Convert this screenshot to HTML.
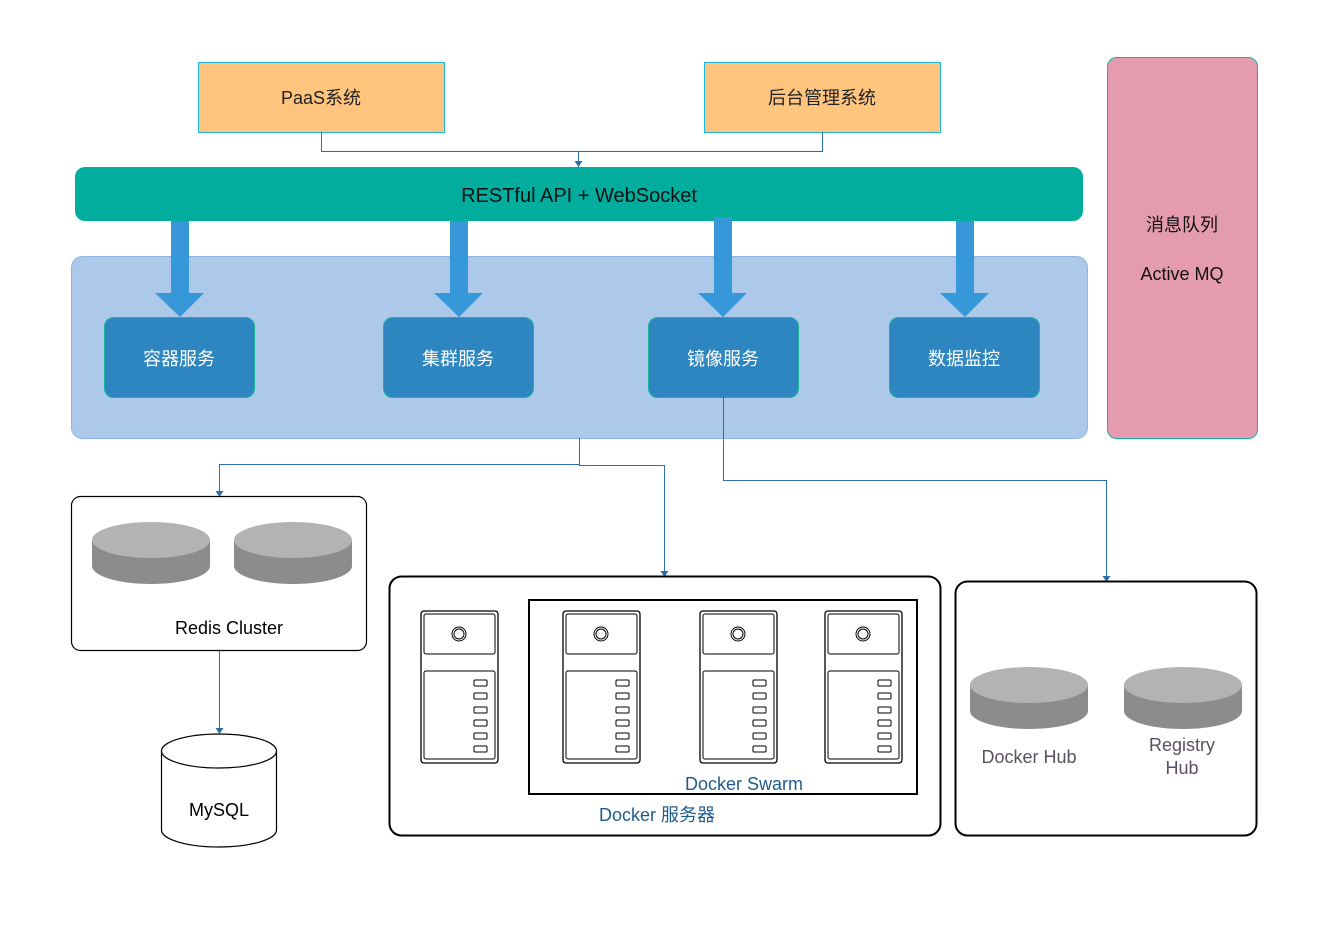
<!DOCTYPE html>
<html><head><meta charset="utf-8"><style>
html,body{margin:0;padding:0;background:#fff;}
svg text{font-family:"Liberation Sans","Noto Sans CJK SC",sans-serif;}
</style></head><body>
<svg width="1338" height="945" xmlns="http://www.w3.org/2000/svg">
<defs>
<marker id="ar" markerWidth="8" markerHeight="8" refX="6" refY="4" orient="auto" markerUnits="userSpaceOnUse">
<path d="M0,0 L6,4 L0,8 Z" fill="#2a6fa6"/></marker>
<g id="srv">
<rect x="0" y="0" width="77" height="152" rx="3" fill="#fff" stroke="#000" stroke-width="1.3"/>
<rect x="3" y="3" width="71" height="40" rx="2" fill="#fff" stroke="#000" stroke-width="1"/>
<circle cx="38" cy="23" r="7" fill="none" stroke="#000" stroke-width="1"/>
<circle cx="38" cy="23" r="5" fill="none" stroke="#000" stroke-width="1"/>
<rect x="3" y="60" width="71" height="88" rx="2" fill="#fff" stroke="#000" stroke-width="1"/>
<g fill="none" stroke="#000" stroke-width="1">
<rect x="53" y="69" width="13" height="6" rx="1"/><rect x="53" y="82" width="13" height="6" rx="1"/>
<rect x="53" y="96" width="13" height="6" rx="1"/><rect x="53" y="109" width="13" height="6" rx="1"/>
<rect x="53" y="122" width="13" height="6" rx="1"/><rect x="53" y="135" width="13" height="6" rx="1"/>
</g></g>
<g id="disk">
<path d="M0,18 L0,44 A59,18 0 0 0 118,44 L118,18 Z" fill="#8c8c8c"/>
<ellipse cx="59" cy="18" rx="59" ry="18" fill="#b3b3b3"/>
</g>
</defs>

<rect x="198.5" y="62.5" width="246" height="70" fill="#ffc47e" stroke="#1fb6e0"/>
<text x="321" y="104" font-size="18" text-anchor="middle" fill="#222">PaaS系统</text>
<rect x="704.5" y="62.5" width="236" height="70" fill="#ffc47e" stroke="#1fb6e0"/>
<text x="822" y="104" font-size="18" text-anchor="middle" fill="#222">后台管理系统</text>
<path d="M321.5,132 V151.5 H822.5 V132" fill="none" stroke="#2a6fa6" stroke-width="1"/>
<path d="M578.5,151.5 V167" fill="none" stroke="#2a6fa6" stroke-width="1" marker-end="url(#ar)"/>

<rect x="75" y="167" width="1008" height="54" rx="10" fill="#03ad9d"/>
<text x="579" y="202" font-size="20" text-anchor="middle" fill="#111">RESTful API + WebSocket</text>

<rect x="1107.5" y="57.5" width="150" height="381" rx="9" fill="#e49bb0" stroke="#1ab19f"/>
<text x="1182" y="231" font-size="18" text-anchor="middle" fill="#111">消息队列</text>
<text x="1182" y="280" font-size="18" text-anchor="middle" fill="#111">Active MQ</text>

<rect x="71.5" y="256.5" width="1016" height="182" rx="11" fill="#adc9e9" stroke="#8db4e2"/>
<g fill="#3798d9">
<path d="M171,221 H189 V293 H204 L180,317 L155,293 H171 Z"/>
<path d="M450,221 H468 V293 H483 L459,317 L434,293 H450 Z"/>
<path d="M714,217 H732 V293 H747 L723,317 L698,293 H714 Z"/>
<path d="M956,221 H974 V293 H989 L965,317 L940,293 H956 Z"/>
</g>
<g fill="#2e86c1" stroke="#1ab19f" stroke-width="1">
<rect x="104.5" y="317.5" width="150" height="80" rx="9"/>
<rect x="383.5" y="317.5" width="150" height="80" rx="9"/>
<rect x="648.5" y="317.5" width="150" height="80" rx="9"/>
<rect x="889.5" y="317.5" width="150" height="80" rx="9"/>
</g>
<g font-size="18" fill="#fff" text-anchor="middle">
<text x="179" y="365">容器服务</text><text x="458" y="365">集群服务</text>
<text x="723" y="365">镜像服务</text><text x="964" y="365">数据监控</text>
</g>

<g fill="none" stroke="#2a6fa6" stroke-width="1">
<path d="M579.5,438 V464.5 H219.5 V497" marker-end="url(#ar)"/>
<path d="M579.5,464.5 V465.5 H664.5 V577" marker-end="url(#ar)"/>
<path d="M723.5,397 V480.5 H1106.5 V582" marker-end="url(#ar)"/>
<path d="M219.5,650 V734" marker-end="url(#ar)"/>
</g>

<rect x="71.5" y="496.5" width="295" height="154" rx="9" fill="#fff" stroke="#000" stroke-width="1.2"/>
<use href="#disk" x="92" y="522"/>
<use href="#disk" x="234" y="522"/>
<text x="229" y="634" font-size="18" text-anchor="middle" fill="#000">Redis Cluster</text>

<path d="M161.5,751 V830 A57.5,17 0 0 0 276.5,830 V751" fill="#fff" stroke="#000" stroke-width="1.2"/>
<ellipse cx="219" cy="751" rx="57.5" ry="17" fill="#fff" stroke="#000" stroke-width="1.2"/>
<text x="219" y="816" font-size="18" text-anchor="middle" fill="#000">MySQL</text>

<rect x="389.5" y="576.5" width="551" height="259" rx="12" fill="#fff" stroke="#000" stroke-width="2"/>
<rect x="529" y="600" width="388" height="194" fill="none" stroke="#000" stroke-width="2"/>
<use href="#srv" x="421" y="611"/>
<use href="#srv" x="563" y="611"/>
<use href="#srv" x="700" y="611"/>
<use href="#srv" x="825" y="611"/>
<text x="744" y="790" font-size="18" text-anchor="middle" fill="#1f5c8e">Docker Swarm</text>
<text x="657" y="821" font-size="18" text-anchor="middle" fill="#1f5c8e">Docker 服务器</text>

<rect x="955.5" y="581.5" width="301" height="254" rx="12" fill="#fff" stroke="#000" stroke-width="2"/>
<use href="#disk" x="970" y="667"/>
<use href="#disk" x="1124" y="667"/>
<text x="1029" y="763" font-size="18" text-anchor="middle" fill="#5a5060">Docker Hub</text>
<text x="1182" y="751" font-size="18" text-anchor="middle" fill="#5a5060">Registry</text>
<text x="1182" y="774" font-size="18" text-anchor="middle" fill="#5a5060">Hub</text>
</svg>
</body></html>
